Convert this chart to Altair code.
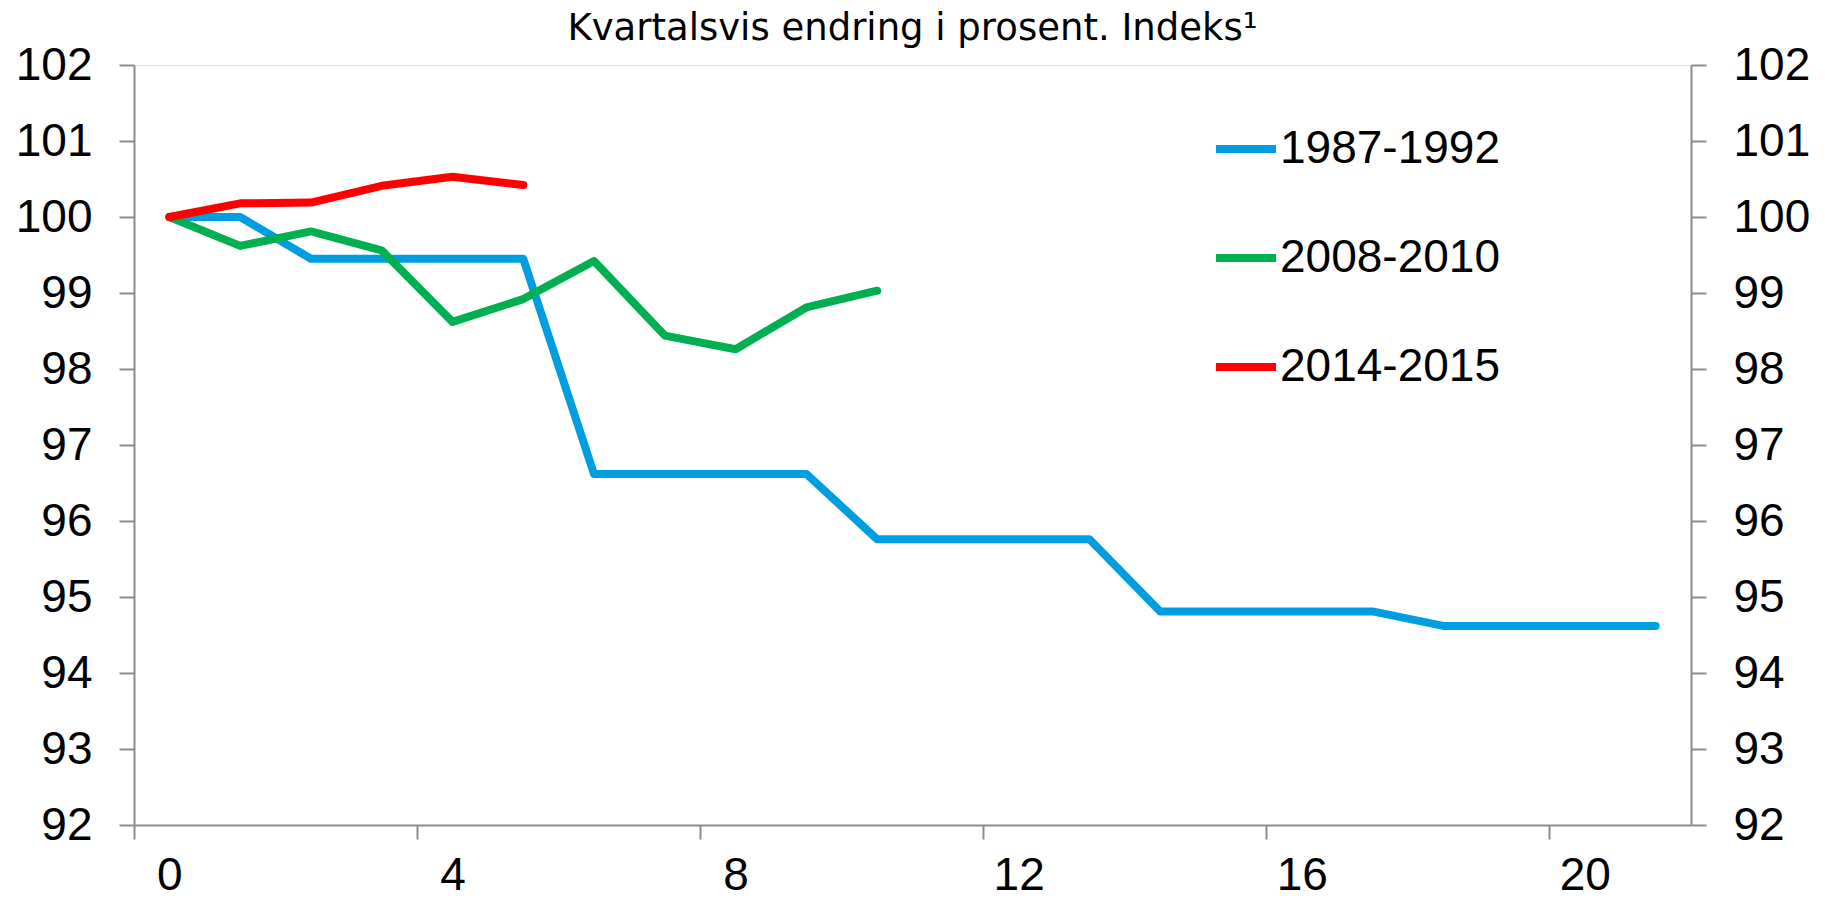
import altair as alt
import pandas as pd

# ---- data ----
series_names = ["1987-1992", "2008-2010", "2014-2015"]
series_colors = ["#009ee0", "#00b050", "#ff0000"]

q_1987 = list(range(22))
v_1987 = [100, 100, 99.45, 99.45, 99.45, 99.45, 96.62, 96.62, 96.62, 96.62,
          95.76, 95.76, 95.76, 95.76, 94.81, 94.81, 94.81, 94.81,
          94.62, 94.62, 94.62, 94.62]
q_2008 = list(range(11))
v_2008 = [100, 99.62, 99.81, 99.56, 98.62, 98.92, 99.42, 98.44, 98.26, 98.81, 99.03]
q_2014 = list(range(6))
v_2014 = [100, 100.18, 100.19, 100.41, 100.53, 100.42]

x_tick_values = [-0.5, 3.5, 7.5, 11.5, 15.5, 19.5]
y_tick_values = list(range(92, 103))
title_text = "Kvartalsvis endring i prosent. Indeks¹"

rows = []
for name, qs, vs in zip(series_names, [q_1987, q_2008, q_2014], [v_1987, v_2008, v_2014]):
    for q, v in zip(qs, vs):
        rows.append({"serie": name, "q": q, "v": v})
df = pd.DataFrame(rows)
df["ord"] = df["serie"].map({n: i for i, n in enumerate(series_names)})

W, H = 1557, 760
cat_half = W / 22 / 2

LABEL_FONT = "Liberation Sans"
FS = 46
AX = "#8c8c8c"

x_scale = alt.Scale(domain=[-0.5, 21.5], nice=False, zero=False)
x_axis = alt.Axis(
    values=x_tick_values,
    labelExpr="'' + (datum.value + 0.5)",
    labelOffset=cat_half,
    labelFlush=False,
    labelOverlap=False,
    labelBound=False,
    grid=False,
    title=None,
    tickSize=14,
    tickWidth=2,
    tickColor=AX,
    domainColor=AX,
    domainWidth=2,
    labelFont=LABEL_FONT,
    labelFontSize=FS,
    labelColor="black",
    labelPadding=14,
)

y_scale = alt.Scale(domain=[92, 102], nice=False, zero=False)

def y_axis(orient):
    return alt.Axis(
        orient=orient,
        values=y_tick_values,
        grid=False,
        title=None,
        tickSize=15,
        tickWidth=2,
        tickColor=AX,
        domainColor=AX,
        domainWidth=2,
        labelFont=LABEL_FONT,
        labelFontSize=FS,
        labelColor="black",
        labelPadding=27,
        labelFlush=False,
        labelOverlap=False,
    )

lines = alt.Chart(df).mark_line(strokeWidth=8, strokeCap="round", strokeJoin="round").encode(
    x=alt.X("q:Q", scale=x_scale, axis=x_axis),
    y=alt.Y("v:Q", scale=y_scale, axis=y_axis("left")),
    color=alt.Color(
        "serie:N",
        scale=alt.Scale(domain=series_names, range=series_colors),
        legend=alt.Legend(
            title=None,
            orient="none",
            legendX=1078,
            legendY=50,
            symbolType="stroke",
            symbolSize=3600,
            symbolStrokeWidth=8,
            labelFont=LABEL_FONT,
            labelFontSize=FS,
            labelColor="black",
            labelOffset=0,
            rowPadding=52,
            labelLimit=500,
        ),
    ),
    order=alt.Order("ord:Q"),
    detail="serie:N",
)

right = alt.Chart(df).mark_line(opacity=0).encode(
    x=alt.X("q:Q", scale=x_scale, axis=x_axis),
    y=alt.Y("v:Q", scale=y_scale, axis=y_axis("right")),
)

chart = (
    alt.layer(lines, right)
    .resolve_scale(y="independent")
    .properties(
        width=W,
        height=H,
        autosize=alt.AutoSizeParams(type="none"),
        padding={"left": 126, "top": 57, "right": 126, "bottom": 76},
        title=alt.TitleParams(
            title_text,
            font="DejaVu Sans",
            fontSize=37,
            fontWeight="normal",
            color="black",
            anchor="middle",
            frame="group",
            offset=-6,
        ),
    )
    .configure_view(stroke=AX, strokeWidth=2)
    .configure(background="white")
)

chart.save("out.html", embed_options={"renderer": "svg", "actions": False})
